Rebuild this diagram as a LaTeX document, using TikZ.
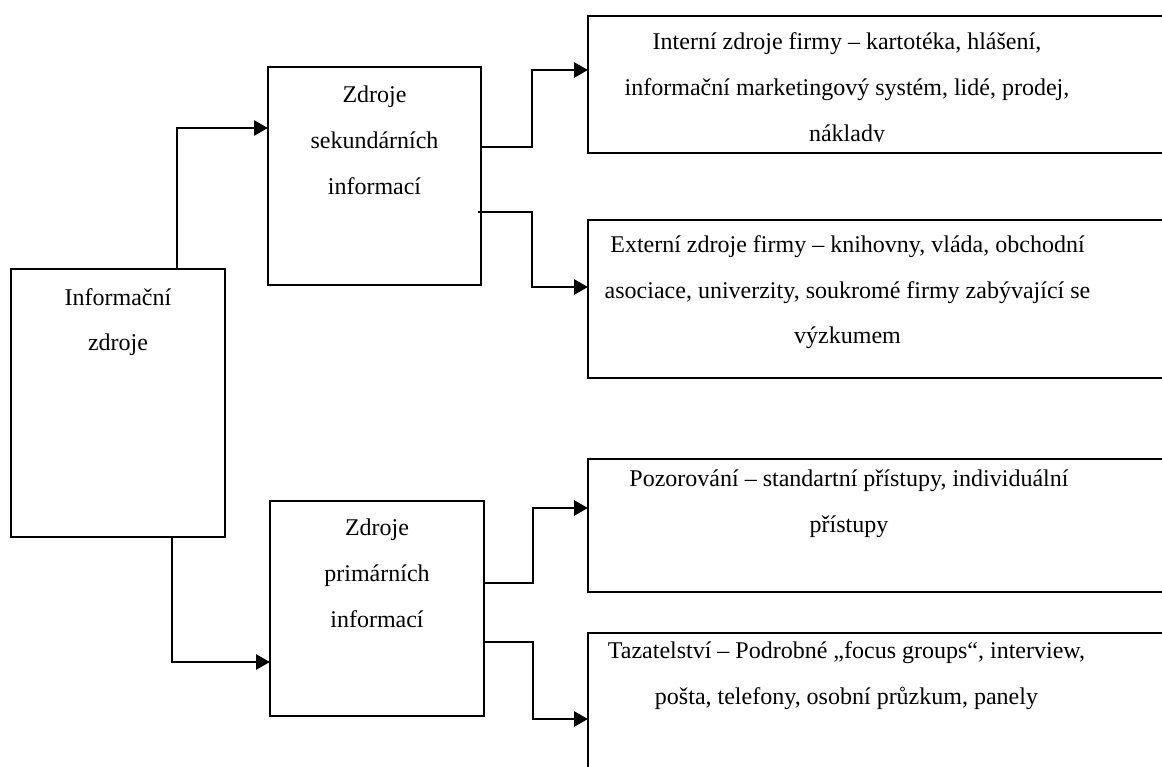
\documentclass[tikz,border=0pt]{standalone}
\usepackage{fontspec}
\setmainfont{Liberation Serif}
\usetikzlibrary{arrows.meta}
\begin{document}
\begin{tikzpicture}[x=1pt,y=-1pt,
  box/.style={draw, line width=2.8pt, inner sep=0pt, outer sep=0pt, anchor=north west},
  txt/.style={anchor=north, inner sep=0pt, outer sep=0pt, align=center,
              font=\fontsize{24}{46}\selectfont},
  link/.style={line width=2.8pt, -{Triangle[length=14pt,width=15pt]}}
]
\useasboundingbox (0,0) rectangle (1162,767);
\clip (0,0) rectangle (1162,767);

% boxes
\node[box, minimum width=214pt, minimum height=268pt] (L)  at (11,269)  {};
\node[box, minimum width=213pt, minimum height=218pt] (S)  at (268,67)  {};
\node[box, minimum width=214pt, minimum height=215pt] (P)  at (270,501) {};
\node[box, minimum width=590pt, minimum height=137pt] (R1) at (588,16)  {};
\node[box, minimum width=590pt, minimum height=158pt] (R2) at (588,220) {};
\node[box, minimum width=590pt, minimum height=133pt] (R3) at (588,459) {};
\node[box, minimum width=590pt, minimum height=170pt] (R4) at (588,633) {};

% texts
\node[txt] (tL) at (118,272.8) {\strut Informační\\zdroje};
\node[txt] (tS) at (374.5,70.8) {\strut Zdroje\\sekundárních\\informací};
\node[txt] (tP) at (377,502.8) {\strut Zdroje\\primárních\\informací};
\begin{scope}
  \clip (R1.north west) rectangle ([yshift=11pt]R1.south east);
  \node[txt] (tR1) at (847,17.8) {\strut Interní zdroje firmy – kartotéka, hlášení,\\informační marketingový systém, lidé, prodej,\\náklady};
\end{scope}
\node[txt] (tR2) at (847.5,219.8) {\strut Externí zdroje firmy – knihovny, vláda, obchodní\\asociace, univerzity, soukromé firmy zabývající se\\výzkumem};
\node[txt] (tR3) at (849,453.8) {\strut Pozorování – standartní přístupy, individuální\\přístupy};
\node[txt] (tR4) at (846.5,625.8) {\strut Tazatelství – Podrobné „focus groups“, interview,\\pošta, telefony, osobní průzkum, panely};

% connectors
\draw[link] ([xshift=59pt]L.north) |- ([yshift=48pt]S.west);
\draw[link] ([xshift=54pt]L.south) |- ([yshift=-53.5pt]P.west);
\draw[link] ([yshift=29pt]S.east) -- ++(51,0) |- ([yshift=14.5pt]R1.west);
\draw[link] ([yshift=-36pt,xshift=-3pt]S.east) -- ++(54,0) |- ([yshift=12pt]R2.west);
\draw[link] ([yshift=25.5pt]P.east) -- ++(49,0) |- ([yshift=17.5pt]R3.west);
\draw[link] ([yshift=-33.5pt]P.east) -- ++(49,0) |- ([yshift=-1pt]R4.west);
\end{tikzpicture}
\end{document}
